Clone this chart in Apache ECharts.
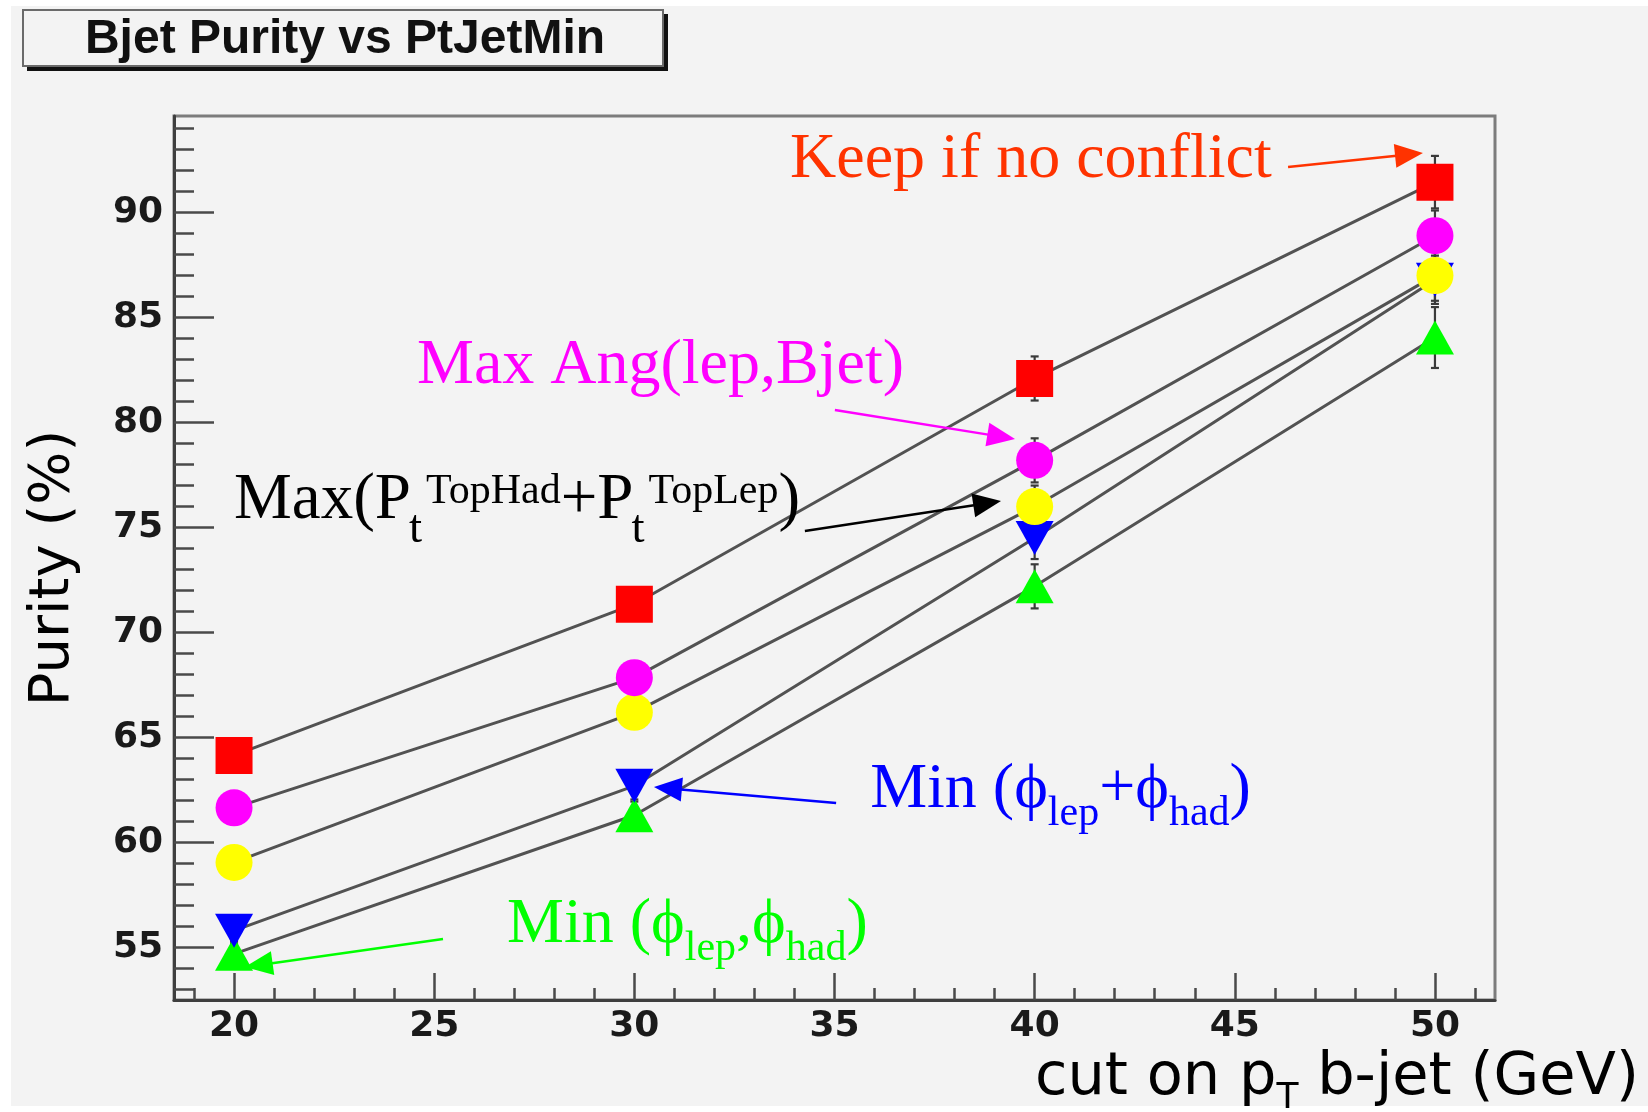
<!DOCTYPE html>
<html>
<head>
<meta charset="utf-8">
<title>Bjet Purity vs PtJetMin</title>
<script src="https://cdn.jsdelivr.net/npm/echarts@6/dist/echarts.min.js"></script>
<style>
	html, body { margin: 0; padding: 0; background: #fff; }
	#chart { width: 1648px; height: 1112px; }
</style>
</head>
<body>
<div id="chart"></div>
<script>
// x: cut on pT b-jet (GeV)
var ptCut = [20, 30, 40, 50];

// purity (%) per selection method
var keepNoConflict = [64.15, 71.35, 82.1, 91.45];
var maxAngLepBjet = [61.65, 67.85, 78.2, 88.9];
var maxPtSum = [59.05, 66.2, 76.0, 87.0];
var minPhiSum = [55.8, 62.7, 74.5, 86.8];
var minPhiPair = [54.7, 61.3, 72.2, 84.05];

// error bars (half widths)
var errKeep = [0.6, 0.65, 1.05, 1.25];
var errMaxAng = [0.6, 0.65, 1.05, 1.2];
var errMaxPt = [0.6, 0.65, 1.0, 1.2];
var errMinSum = [0.6, 0.65, 1.0, 1.15];
var errMinPair = [0.6, 0.65, 1.05, 1.45];

// axis ticks
var xMajor = [20, 25, 30, 35, 40, 45, 50];
var xMinor = [19, 21, 22, 23, 24, 26, 27, 28, 29, 31, 32, 33, 34, 36, 37, 38, 39, 41, 42, 43, 44, 46, 47, 48, 49, 51];
var yMajor = [55, 60, 65, 70, 75, 80, 85, 90];
var yMinor = [53, 54, 56, 57, 58, 59, 61, 62, 63, 64, 66, 67, 68, 69, 71, 72, 73, 74, 76, 77, 78, 79, 81, 82, 83, 84, 86, 87, 88, 89, 91, 92, 93, 94];

var chart = echarts.init(document.getElementById('chart'));

var BG = '#f3f3f3';
var LINE = '#525252';

function pairs(ys) {
	var d = [];
	for(var i = 0; i < ptCut.length; i++) d.push([ptCut[i], ys[i]]);
	return d;
}

function errData(ys, es) {
	var d = [];
	for(var i = 0; i < ptCut.length; i++) d.push([ptCut[i], ys[i] - es[i], ys[i] + es[i]]);
	return d;
}

// the five methods, drawn bottom to top
var sets = [
	{ ys: minPhiPair, err: errMinPair, color: '#00ff00', symbol: 'triangle', size: [38, 34], rot: 0 },
	{ ys: minPhiSum, err: errMinSum, color: '#0000ff', symbol: 'triangle', size: [38, 34], rot: 180 },
	{ ys: maxPtSum, err: errMaxPt, color: '#ffff00', symbol: 'circle', size: 37, rot: 0 },
	{ ys: maxAngLepBjet, err: errMaxAng, color: '#ff00ff', symbol: 'circle', size: 37, rot: 0 },
	{ ys: keepNoConflict, err: errKeep, color: '#ff0000', symbol: 'rect', size: 37, rot: 0 }
];

var series = [];
sets.forEach(function(s) {
	series.push({
		type: 'line',
		data: pairs(s.ys),
		showSymbol: false,
		z: 2,
		lineStyle: { color: LINE, width: 3 },
		silent: true
	});
});
sets.forEach(function(s) {
	series.push({
		type: 'custom',
		data: errData(s.ys, s.err),
		z: 3,
		silent: true,
		renderItem: function(params, api) {
			var top = api.coord([api.value(0), api.value(2)]);
			var bot = api.coord([api.value(0), api.value(1)]);
			var st = { stroke: '#3a3a3a', lineWidth: 2.2 };
			return {
				type: 'group',
				children: [
					{ type: 'line', shape: { x1: top[0], y1: top[1], x2: bot[0], y2: bot[1] }, style: st },
					{ type: 'line', shape: { x1: top[0] - 4, y1: top[1], x2: top[0] + 4, y2: top[1] }, style: st },
					{ type: 'line', shape: { x1: bot[0] - 4, y1: bot[1], x2: bot[0] + 4, y2: bot[1] }, style: st }
				]
			};
		}
	});
});
sets.forEach(function(s) {
	series.push({
		type: 'scatter',
		data: pairs(s.ys),
		symbol: s.symbol,
		symbolSize: s.size,
		symbolRotate: s.rot,
		z: 4,
		itemStyle: { color: s.color, opacity: 1 },
		silent: true
	});
});

var tickFont = { fontFamily: 'DejaVu Sans', fontWeight: 'bold', fontSize: 36, color: '#1a1a1a' };

var option = {
	animation: false,
	backgroundColor: '#fff',
	grid: {
		left: 174, right: 153, top: 116, bottom: 112,
		show: true,
		backgroundColor: BG,
		borderColor: '#7c7c7c',
		borderWidth: 3
	},
	xAxis: [{
		type: 'value', min: 18.5, max: 51.5,
		axisLine: { show: true, lineStyle: { color: '#3e3e3e', width: 3 } },
		axisTick: { show: true, inside: true, length: 27, customValues: xMajor, lineStyle: { color: '#4a4a4a', width: 2.5 } },
		axisLabel: Object.assign({ customValues: xMajor, margin: 9 }, tickFont),
		splitLine: { show: false }
	}, {
		type: 'value', min: 18.5, max: 51.5, position: 'bottom',
		axisLine: { show: false },
		axisTick: { show: true, inside: true, length: 12, customValues: xMinor, lineStyle: { color: '#4a4a4a', width: 2.5 } },
		axisLabel: { show: false },
		splitLine: { show: false }
	}],
	yAxis: [{
		type: 'value', min: 52.5, max: 94.6,
		axisLine: { show: true, lineStyle: { color: '#3e3e3e', width: 3 } },
		axisTick: { show: true, inside: true, length: 40, customValues: yMajor, lineStyle: { color: '#4a4a4a', width: 2.5 } },
		axisLabel: Object.assign({ customValues: yMajor, margin: 11 }, tickFont),
		splitLine: { show: false }
	}, {
		type: 'value', min: 52.5, max: 94.6, position: 'left',
		axisLine: { show: false },
		axisTick: { show: true, inside: true, length: 20, customValues: yMinor, lineStyle: { color: '#4a4a4a', width: 2.5 } },
		axisLabel: { show: false },
		splitLine: { show: false }
	}],
	series: series
};

chart.setOption(option);

// ---- annotations (text + arrows), anchored in data coordinates ----
var ctx2d = document.createElement('canvas').getContext('2d');
function textW(str, font) {
	ctx2d.font = font;
	return ctx2d.measureText(str).width;
}
function px(p) {
	return chart.convertToPixel({ xAxisIndex: 0, yAxisIndex: 0 }, p);
}

var SERIF = "'Liberation Serif', 'DejaVu Serif', serif";

// tokens: t text, s size, dy baseline shift, dx extra offset, stay = do not advance
function latex(anchor, color, tokens, family, weight) {
	var p = px(anchor);
	var x = p[0], base = p[1];
	var out = [];
	tokens.forEach(function(k) {
		var font = (weight || 'normal') + ' ' + k.s + 'px ' + (family || SERIF);
		var x0 = x + (k.dx || 0);
		out.push({
			type: 'text',
			x: x0,
			y: base + (k.dy || 0) - 0.33 * k.s,
			z: 20,
			silent: true,
			style: { text: k.t, font: font, fill: color, align: 'left', verticalAlign: 'middle' }
		});
		if(!k.stay) x = x0 + textW(k.t, font);
	});
	return out;
}

function arrow(from, to, color, width) {
	var a = px(from), b = px(to);
	var dx = b[0] - a[0], dy = b[1] - a[1];
	var len = Math.sqrt(dx * dx + dy * dy);
	var ux = dx / len, uy = dy / len;
	var hl = 28, hw = 12;
	var bx = b[0] - ux * hl, by = b[1] - uy * hl;
	return [{
		type: 'line', z: 20, silent: true,
		shape: { x1: a[0], y1: a[1], x2: bx + ux * 4, y2: by + uy * 4 },
		style: { stroke: color, lineWidth: width || 2.5 }
	}, {
		type: 'polygon', z: 20, silent: true,
		shape: { points: [[b[0], b[1]], [bx - uy * hw, by + ux * hw], [bx + uy * hw, by - ux * hw]] },
		style: { fill: color }
	}];
}

var graphic = [];

// page background and title box
graphic.push({ type: 'rect', z: -10, silent: true, shape: { x: 11, y: 6, width: 1637, height: 1100 }, style: { fill: BG } });
graphic.push({ type: 'rect', z: 10, silent: true, shape: { x: 27, y: 14, width: 641, height: 57 }, style: { fill: '#111' } });
graphic.push({ type: 'rect', z: 11, silent: true, shape: { x: 23, y: 10, width: 640, height: 56 }, style: { fill: BG, stroke: '#6a6a6a', lineWidth: 2 } });
graphic.push({
	type: 'text', z: 12, silent: true, x: 345, y: 40,
	style: { text: 'Bjet Purity vs PtJetMin', font: "bold 48px 'Liberation Sans', Arial, sans-serif", fill: '#111', align: 'center', verticalAlign: 'middle' }
});

// y axis title
graphic.push({
	type: 'text', z: 12, silent: true, x: 53, y: 568, rotation: Math.PI / 2,
	style: { text: 'Purity (%)', font: "56px 'DejaVu Sans', sans-serif", fill: '#000', align: 'center', verticalAlign: 'middle' }
});

graphic = graphic.concat(latex([33.89, 91.5], '#ff3300', [{ t: 'Keep if no conflict', s: 64 }]));
graphic = graphic.concat(latex([24.57, 81.69], '#ff00ff', [{ t: 'Max Ang(lep,Bjet)', s: 64 }]));
graphic = graphic.concat(latex([20.0, 75.26], '#000000', [
	{ t: 'Max(P', s: 65 },
	{ t: 't', s: 47, dy: 23, dx: -2, stay: true },
	{ t: 'TopHad', s: 42, dy: -16, dx: 15 },
	{ t: '+P', s: 65 },
	{ t: 't', s: 47, dy: 23, dx: -2, stay: true },
	{ t: 'TopLep', s: 42, dy: -16, dx: 15 },
	{ t: ')', s: 65 }
]));
graphic = graphic.concat(latex([35.89, 61.5], '#0000ff', [
	{ t: 'Min (', s: 64 }, { t: 'ϕ', s: 64 }, { t: 'lep', s: 42, dy: 17 },
	{ t: '+', s: 64 }, { t: 'ϕ', s: 64 }, { t: 'had', s: 42, dy: 17 }, { t: ')', s: 64 }
]));
graphic = graphic.concat(latex([26.82, 55.07], '#00ff00', [
	{ t: 'Min (', s: 64 }, { t: 'ϕ', s: 64 }, { t: 'lep', s: 42, dy: 17 },
	{ t: ',', s: 64 }, { t: 'ϕ', s: 64 }, { t: 'had', s: 42, dy: 17 }, { t: ')', s: 64 }
]));

// x axis title sits below the frame, out of data range, so place it in pixels
(function() {
	var f1 = "59px 'DejaVu Sans', sans-serif", f2 = "36px 'DejaVu Sans', sans-serif";
	var x = 1035, base = 1099;
	var parts = [{ t: 'cut on p', f: f1, s: 59, dy: 0 }, { t: 'T', f: f2, s: 36, dy: 12 }, { t: ' b-jet (GeV)', f: f1, s: 59, dy: 0 }];
	parts.forEach(function(k) {
		graphic.push({
			type: 'text', z: 12, silent: true, x: x, y: base + k.dy - 0.35 * k.s,
			style: { text: k.t, font: k.f, fill: '#000', align: 'left', verticalAlign: 'middle' }
		});
		x += textW(k.t, k.f);
	});
})();

graphic = graphic.concat(arrow([46.33, 92.17], [49.70, 92.84], '#ff3300', 2.5));
graphic = graphic.concat(arrow([35.01, 80.60], [39.51, 79.22], '#ff00ff', 2.5));
graphic = graphic.concat(arrow([34.26, 74.84], [39.16, 76.26], '#000000', 2.5));
graphic = graphic.concat(arrow([35.04, 61.88], [30.49, 62.64], '#0000ff', 2.5));
graphic = graphic.concat(arrow([25.22, 55.40], [20.27, 54.07], '#00ff00', 2.5));

chart.setOption({ graphic: graphic });
</script>
</body>
</html>
